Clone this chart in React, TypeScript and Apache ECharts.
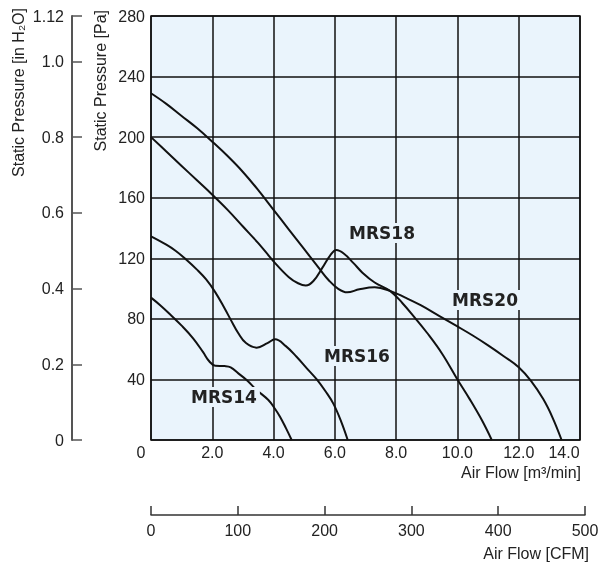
import React, { useEffect, useRef } from "react";
import * as echarts from "echarts";

// Air flow [m3/min] vs static pressure [Pa]
const mrs20: number[][] = [
  [0, 229], [0.5, 222], [1, 214], [1.5, 206], [2, 197], [2.5, 187.5], [3, 177], [3.5, 165],
  [4, 152], [4.5, 139], [5, 126], [5.5, 113], [5.8, 105.5], [6.1, 100], [6.4, 97.5],
  [6.8, 99.5], [7.3, 100.8], [7.8, 98.5], [8.3, 94], [8.8, 89], [9.4, 82], [10, 75],
  [10.5, 69], [11, 62.5], [11.5, 55.5], [12, 48], [12.4, 39], [12.8, 27], [13.1, 15], [13.4, 0],
];
const mrs18: number[][] = [
  [0, 200], [0.5, 190.5], [1, 181], [1.5, 171.5], [2, 162], [2.5, 152], [3, 141], [3.5, 130],
  [4, 118], [4.5, 107.5], [4.8, 103.5], [5.05, 102], [5.3, 105], [5.6, 114], [5.85, 122],
  [6.05, 125.5], [6.3, 123], [6.6, 117], [6.9, 110.5], [7.3, 104], [7.8, 98.5], [8.2, 90.5],
  [8.6, 81], [9, 71], [9.5, 57], [10, 40], [10.4, 27], [10.8, 13], [11.12, 0],
];
const mrs16: number[][] = [
  [0, 134.5], [0.5, 129], [0.8, 125], [1.1, 120], [1.5, 112.5], [1.8, 106], [2.1, 97.5],
  [2.4, 87], [2.6, 79.5], [2.85, 70.5], [3.1, 64], [3.45, 61], [3.8, 64], [4.05, 66.5],
  [4.4, 62], [4.75, 55], [5.1, 47], [5.41, 40], [5.7, 32], [5.95, 24], [6.2, 12.5], [6.42, 0],
];
const mrs14: number[][] = [
  [0, 94], [0.3, 89], [0.62, 83], [1.0, 75.5], [1.38, 67], [1.7, 58], [1.9, 52], [2.1, 49],
  [2.4, 48.8], [2.6, 48], [2.85, 44], [3.12, 39.6], [3.45, 33], [3.83, 26.4], [4.05, 20.5],
  [4.21, 15.4], [4.4, 8], [4.59, 0],
];
const seriesNames = ["MRS20", "MRS18", "MRS16", "MRS14"];
const seriesData = [mrs20, mrs18, mrs16, mrs14];
// label anchor points in data units
const labelAt: number[][] = [[10.9, 92.5], [7.54, 136.7], [6.72, 55.5], [2.38, 28.4]];

const FONT = "'Liberation Sans', Arial, sans-serif";
const TXT = "#222";
const PLOT_BG = "#EAF4FC";

export default function App() {
  const ref = useRef<HTMLDivElement>(null);
  useEffect(() => {
    document.body.style.margin = "0";
    const chart = echarts.init(ref.current!, undefined, { renderer: "svg" });
    const gridLine = { show: true, lineStyle: { color: "#111", width: 1.5 } };
    chart.setOption({
      animation: false,
      textStyle: { fontFamily: FONT },
      grid: [
        { left: 151, top: 16, width: 429, height: 424, show: true, backgroundColor: PLOT_BG, borderColor: "#111", borderWidth: 1.5 },
        { left: 151, top: 505, width: 434, height: 10 },
        { left: 72, top: 16, width: 1, height: 424 },
      ],
      xAxis: [
        {
          type: "value", gridIndex: 0, min: 0, max: 14, interval: 2,
          axisLine: { show: false }, axisTick: { show: false }, splitLine: gridLine,
          axisLabel: {
            fontSize: 16, color: TXT, margin: 4, fontFamily: FONT,
            formatter: (v: number) => (v === 0 ? "{z|0}" : v === 14 ? "{e|14.0}" : v.toFixed(1)),
            rich: {
              z: { fontSize: 16, color: TXT, fontFamily: FONT, padding: [0, 20, 0, 0] },
              e: { fontSize: 16, color: TXT, fontFamily: FONT, padding: [0, 32, 0, 0] },
            },
          },
        },
        {
          type: "value", gridIndex: 1, min: 0, max: 500, interval: 100,
          axisLine: { show: true, lineStyle: { color: "#333", width: 1.5 } },
          axisTick: { show: true, inside: true, length: 9, lineStyle: { color: "#333", width: 1.5 } },
          splitLine: { show: false },
          axisLabel: { fontSize: 16, color: TXT, margin: 7, fontFamily: FONT },
        },
        { type: "value", gridIndex: 2, min: 0, max: 1, show: false },
      ],
      yAxis: [
        {
          type: "value", gridIndex: 0, min: 0, max: 280, interval: 40,
          axisLine: { show: false }, axisTick: { show: false }, splitLine: gridLine,
          axisLabel: { fontSize: 16, color: TXT, margin: 6, fontFamily: FONT, formatter: (v: number) => (v === 0 ? "" : String(v)) },
        },
        { type: "value", gridIndex: 1, show: false, min: 0, max: 1 },
        {
          type: "value", gridIndex: 2, min: 0, max: 1.12, interval: 0.2, position: "left",
          axisLine: { show: true, lineStyle: { color: "#555", width: 2 } },
          axisTick: { show: true, inside: true, length: 10, lineStyle: { color: "#555", width: 1.5 } },
          splitLine: { show: false },
          axisLabel: {
            fontSize: 16, color: TXT, margin: 8, fontFamily: FONT,
            formatter: (v: number) => (v === 0 ? "0" : v > 1.05 ? "1.12" : v.toFixed(1)),
          },
        },
      ],
      series: seriesData.map((d, i) => ({
        name: seriesNames[i],
        type: "line",
        xAxisIndex: 0,
        yAxisIndex: 0,
        data: d,
        symbol: "none",
        showSymbol: false,
        smooth: 0.4,
        lineStyle: { color: "#111", width: 2 },
        z: 3,
        markPoint: {
          symbol: "circle",
          symbolSize: 0,
          z: 5,
          data: [{ coord: labelAt[i], name: seriesNames[i] }],
          label: {
            show: true, position: "inside", formatter: "{b}",
            fontFamily: "'DejaVu Sans', sans-serif", fontWeight: "bold", fontSize: 17,
            color: "#222", backgroundColor: PLOT_BG, padding: [2, 3, 1, 3],
          },
        },
      })),
      graphic: [
        { type: "text", x: 18, y: 8, rotation: Math.PI / 2, style: { text: "Static Pressure [in H₂O]", align: "right", verticalAlign: "middle", fontSize: 16, fontFamily: FONT, fill: TXT } },
        { type: "text", x: 100, y: 10, rotation: Math.PI / 2, style: { text: "Static Pressure [Pa]", align: "right", verticalAlign: "middle", fontSize: 16, fontFamily: FONT, fill: TXT } },
        { type: "text", x: 581, y: 472, style: { text: "Air Flow [m³/min]", align: "right", verticalAlign: "middle", fontSize: 16, fontFamily: FONT, fill: TXT } },
        { type: "text", x: 589, y: 553, style: { text: "Air Flow [CFM]", align: "right", verticalAlign: "middle", fontSize: 16, fontFamily: FONT, fill: TXT } },
      ],
    });
    return () => chart.dispose();
  }, []);
  return <div ref={ref} style={{ position: "fixed", left: 0, top: 0, width: 603, height: 566 }} />;
}
